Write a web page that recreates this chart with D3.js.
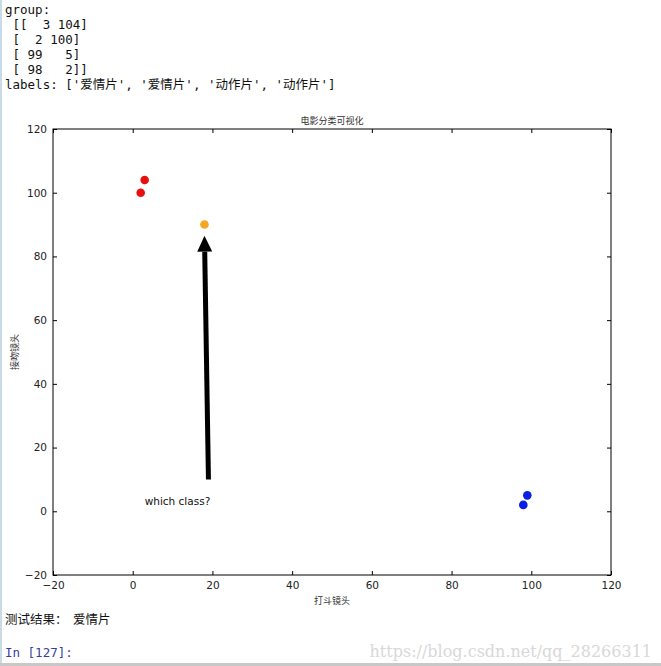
<!DOCTYPE html>
<html><head><meta charset="utf-8">
<script src="https://cdn.jsdelivr.net/npm/d3@7"></script>
<style>
html,body{margin:0;padding:0;background:#fff;}
svg{display:block;}
</style></head>
<body>
<script>
const groupLines = ["group:", " [[  3 104]", " [  2 100]", " [ 99   5]", " [ 98   2]]"];
const labelsLine = "labels: ['爱情片', '爱情片', '动作片', '动作片']";
const redX = [3, 2];
const redY = [104, 100];
const blueX = [99, 98];
const blueY = [5, 2];
const testX = [18];
const testY = [90];
const arrowFrom = [19, 10];
const arrowTo = [18, 86.5];
const annText = "which class?";
const annPos = [3, 2];
const xTicks = [-20, 0, 20, 40, 60, 80, 100, 120];
const yTicks = [-20, 0, 20, 40, 60, 80, 100, 120];
const title = "电影分类可视化";
const xLabel = "打斗镜头";
const yLabel = "接吻镜头";
const resultText = "测试结果：  爱情片";

const W = 661, H = 666;
const svg = d3.select("body").append("svg").attr("width", W).attr("height", H);
svg.append("rect").attr("x",0).attr("y",0).attr("width",2).attr("height",H).attr("fill","#c9dbe6");

const mono = "'DejaVu Sans Mono','Liberation Mono',monospace";
const sans = "'DejaVu Sans','Noto Sans CJK SC',sans-serif";
groupLines.concat([labelsLine]).forEach((t,i)=>{
  svg.append("text").attr("x",5).attr("y",14+i*15).attr("font-family",mono+",'Noto Sans CJK SC'")
    .attr("font-size",12.5).attr("fill","#111").attr("xml:space","preserve").style("white-space","pre").text(t);
});

const L=53, R=611, T=129, B=575;
const x = d3.scaleLinear().domain([-20,120]).range([L,R]);
const y = d3.scaleLinear().domain([-20,120]).range([B,T]);

const g = svg.append("g");
// axes
const ax = (gen, tr) => g.append("g").attr("transform", tr).call(gen);
const styleAxis = sel => {
  sel.select(".domain").remove();
  sel.selectAll("line").attr("stroke","#000");
  sel.selectAll("text").attr("font-family",sans).attr("font-size",10.5).attr("fill","#222");
};
ax(d3.axisBottom(x).tickValues(xTicks).tickSize(-4).tickPadding(7).tickFormat(d=>d<0?"\u2212"+(-d):d), `translate(0,${B})`).call(styleAxis);
ax(d3.axisLeft(y).tickValues(yTicks).tickSize(-4).tickPadding(6).tickFormat(d=>d<0?"\u2212"+(-d):d), `translate(${L},0)`).call(styleAxis);
ax(d3.axisTop(x).tickValues(xTicks).tickSize(-4).tickFormat(""), `translate(0,${T})`).call(styleAxis);
ax(d3.axisRight(y).tickValues(yTicks).tickSize(-4).tickFormat(""), `translate(${R},0)`).call(styleAxis);
g.append("rect").attr("x",L).attr("y",T).attr("width",R-L).attr("height",B-T).attr("fill","none").attr("stroke","#000").attr("stroke-width",1);

// arrow
const ax0=x(arrowFrom[0]), ay0=y(arrowFrom[1]), ax1=x(arrowTo[0]), ay1=y(arrowTo[1]);
const ang=Math.atan2(ay1-ay0, ax1-ax0);
const headLen=16, headW=7.5;
const bx=ax1-headLen*Math.cos(ang), by=ay1-headLen*Math.sin(ang);
const px=-Math.sin(ang), py=Math.cos(ang);
g.append("line").attr("x1",ax0).attr("y1",ay0).attr("x2",bx).attr("y2",by).attr("stroke","#000").attr("stroke-width",5);
g.append("path").attr("d",`M${ax1},${ay1}L${bx+px*headW},${by+py*headW}L${bx-px*headW},${by-py*headW}Z`).attr("fill","#000");

g.append("text").attr("x",x(annPos[0])).attr("y",y(annPos[1])).attr("font-family",sans).attr("font-size",10.5).attr("fill","#111").text(annText);

// points
const pts = (xs, ys, c) => g.selectAll(null).data(xs.map((v,i)=>[v,ys[i]])).enter().append("circle")
  .attr("cx",d=>x(d[0])).attr("cy",d=>y(d[1])).attr("r",4.3).attr("fill",c);
pts(redX, redY, "#e8100f");
pts(testX, testY, "#f5a623");
pts(blueX, blueY, "#0a1ee6");

// titles
svg.append("text").attr("x",(L+R)/2).attr("y",T-5).attr("text-anchor","middle").attr("font-family","'Noto Sans CJK SC'").attr("font-size",9).attr("fill","#333").text(title);
svg.append("text").attr("x",(L+R)/2).attr("y",B+29).attr("text-anchor","middle").attr("font-family","'Noto Sans CJK SC'").attr("font-size",9).attr("fill","#333").text(xLabel);
svg.append("text").attr("transform",`translate(18,${(T+B)/2}) rotate(-90)`).attr("text-anchor","middle").attr("font-family","'Noto Sans CJK SC'").attr("font-size",9).attr("fill","#333").text(yLabel);

svg.append("text").attr("x",5).attr("y",624).attr("font-family","'Noto Sans CJK SC'").attr("font-size",12.5).attr("fill","#111").attr("xml:space","preserve").style("white-space","pre").text(resultText);
svg.append("text").attr("x",5).attr("y",657).attr("font-family",mono).attr("font-size",12.5).attr("fill","#303f9f").text("In [127]:");
svg.append("text").attr("x",652).attr("y",657).attr("text-anchor","end").attr("font-family","'DejaVu Serif',serif").attr("font-size",16).attr("fill","#d8d8d8").text("https://blog.csdn.net/qq_28266311");
svg.append("rect").attr("x",0).attr("y",663).attr("width",W).attr("height",3).attr("fill","#c8c8c8");
</script>
</body></html>
